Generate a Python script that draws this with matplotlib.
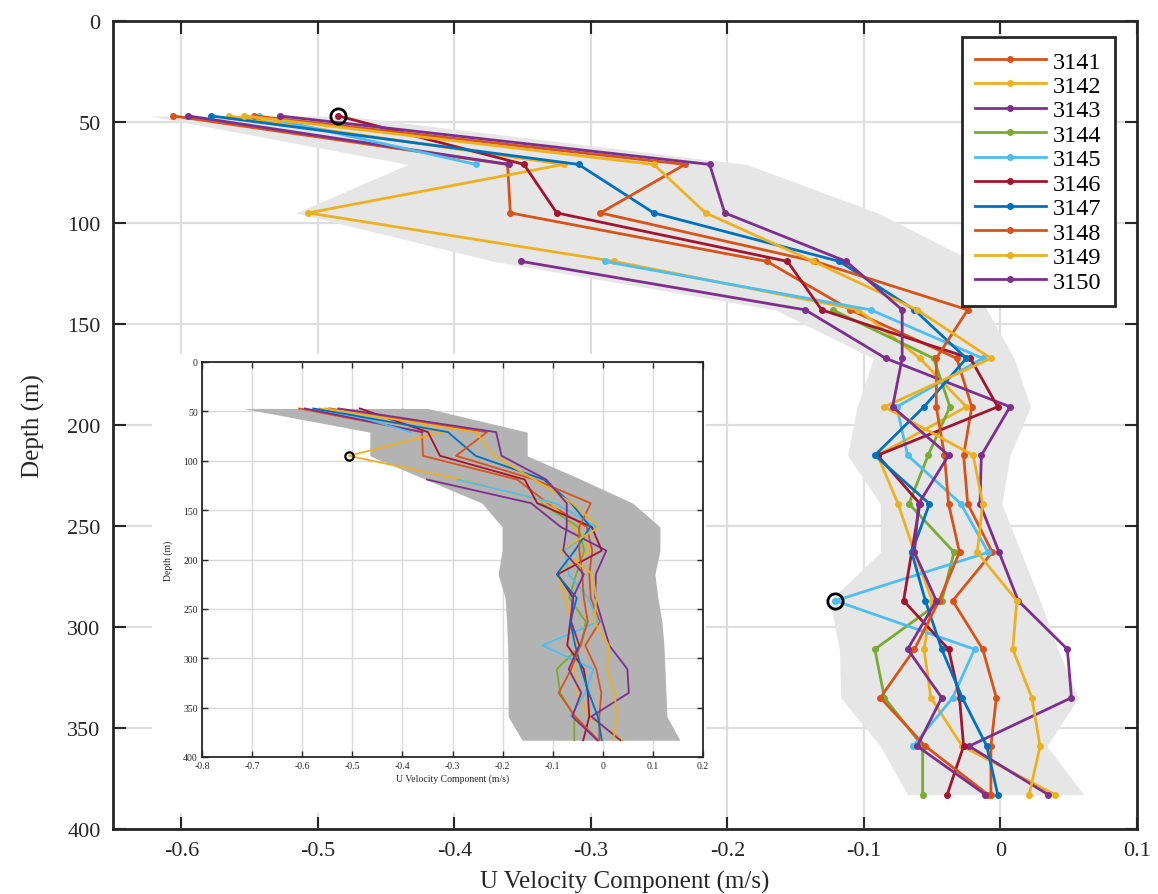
import numpy as np
import matplotlib
matplotlib.use("Agg")
import matplotlib.pyplot as plt
from matplotlib.patches import Rectangle

nan = np.nan

# depth levels (m)
depth = [47, 71, 95, 119, 143, 167, 191, 215, 239, 263, 287, 311, 335, 359, 383]

# U velocity profiles (m/s)
u3141 = [-0.606, -0.361, -0.359, -0.171, -0.110, -0.032, -0.021, -0.027, -0.024, -0.006, -0.035, -0.013, -0.003, -0.007, -0.007]
u3142 = [-0.565, -0.320, -0.507, -0.283, -0.104, -0.059, -0.025, -0.090, -0.075, -0.063, -0.050, -0.056, -0.051, -0.028, 0.040]
u3143 = [-0.595, -0.360, nan, -0.351, -0.143, -0.084, 0.007, -0.014, -0.015, -0.001, 0.013, 0.049, 0.052, -0.023, 0.035]
u3144 = [nan, nan, nan, nan, -0.123, -0.049, -0.037, -0.053, -0.067, -0.034, -0.043, -0.092, -0.085, -0.057, -0.057]
u3145 = [-0.543, -0.384, nan, -0.290, -0.095, -0.013, -0.076, -0.068, -0.029, -0.009, -0.121, -0.019, -0.035, -0.064, nan]
u3146 = [-0.485, -0.349, -0.325, -0.156, -0.131, -0.022, -0.002, -0.090, -0.059, -0.065, -0.071, -0.038, -0.030, -0.027, -0.039]
u3147 = [-0.578, -0.309, -0.254, -0.118, -0.063, -0.025, -0.056, -0.092, -0.052, -0.065, -0.055, -0.043, -0.028, -0.010, -0.002]
u3148 = [-0.547, -0.231, -0.293, -0.136, -0.024, -0.047, -0.047, -0.041, -0.038, -0.030, -0.045, -0.063, -0.088, -0.055, -0.009]
u3149 = [-0.554, -0.254, -0.216, -0.137, -0.061, -0.007, -0.085, -0.020, -0.013, -0.017, 0.012, 0.009, 0.023, 0.029, 0.021]
u3150 = [-0.528, -0.213, -0.202, -0.113, -0.072, -0.072, -0.079, -0.038, -0.060, -0.063, -0.047, -0.068, -0.043, -0.061, -0.011]

labels = ["3141", "3142", "3143", "3144", "3145", "3146", "3147", "3148", "3149", "3150"]
profiles = [u3141, u3142, u3143, u3144, u3145, u3146, u3147, u3148, u3149, u3150]
colors = ["#D95319", "#EDB120", "#7E2F8E", "#77AC30", "#4DBEEE",
          "#A2142F", "#0072BD", "#D95319", "#EDB120", "#7E2F8E"]

# shaded envelope, main panel
env_left = [-0.623, -0.434, -0.516, -0.371, -0.165, -0.093, -0.105, -0.112, -0.088, -0.088, -0.125, -0.118, -0.117, -0.088, -0.068]
env_right = [-0.480, -0.186, -0.090, -0.020, -0.010, 0.010, 0.022, 0.007, 0.001, 0.015, 0.029, 0.042, 0.057, 0.034, 0.061]

# shaded envelope, inset
ins_left = [-0.718, -0.465, -0.465, -0.353, -0.241, -0.201, -0.201, -0.209, -0.195, -0.192, -0.190, -0.189, -0.189, -0.189, -0.161]
ins_right = [-0.350, -0.151, -0.151, -0.043, 0.060, 0.114, 0.114, 0.104, 0.110, 0.118, 0.122, 0.124, 0.126, 0.128, 0.154]

# flagged points
flag_u = [-0.485, -0.121]
flag_d = [47, 287]
ins_flag_u = [-0.507]
ins_flag_d = [95]

plt.rcParams.update({"font.family": "Liberation Serif", "axes.unicode_minus": False,
                     "font.size": 16})
INK = "#262626"
GRID = "#dedede"

fig = plt.figure(figsize=(11.58, 8.95), dpi=100)
ax = fig.add_axes([113 / 1158, 1 - 830 / 895, 1024 / 1158, 808 / 895])

ax.fill_betweenx(depth, env_left, env_right, color="#e6e6e6", lw=0, zorder=1)
for lab, u, c in zip(labels, profiles, colors):
    ax.plot(u, depth, color=c, lw=2, marker="o", ms=4, label=lab, zorder=3)
ax.plot(flag_u, flag_d, ls="none", marker="o", ms=11, mfc="none", mec="black", mew=2, zorder=4)

ax.set_xlim(-0.65, 0.1)
ax.set_ylim(400, 0)
xt = [-0.6, -0.5, -0.4, -0.3, -0.2, -0.1, 0, 0.1]
ax.set_xticks(xt)
ax.set_xticklabels(["-0.6", "-0.5", "-0.4", "-0.3", "-0.2", "-0.1", "0", "0.1"])
ax.set_yticks(range(0, 401, 50))
ax.tick_params(direction="in", length=9, width=1.5, top=True, right=True,
               labelsize=16, colors=INK, pad=9)
ax.grid(True, color=GRID, lw=1.6, zorder=0)
ax.set_axisbelow(True)
for s in ax.spines.values():
    s.set_color(INK)
    s.set_linewidth(2)
ax.set_xlabel("U Velocity Component (m/s)", fontsize=18, color=INK, labelpad=7)
ax.set_ylabel("Depth (m)", fontsize=18, color=INK, labelpad=16)

leg = ax.legend(loc="upper right", bbox_to_anchor=(0.9785, 0.980), borderaxespad=0,
                fancybox=False, edgecolor=INK, framealpha=1, fontsize=17.5,
                handlelength=2.9, labelspacing=0.1, borderpad=0.55, handletextpad=0.3)
leg.get_frame().set_linewidth(2)
leg.set_zorder(6)

# white backing for the inset
ax.add_patch(Rectangle((152 / 1158, 1 - 814 / 895), (706 - 152) / 1158, (814 - 355) / 895,
                       transform=fig.transFigure, facecolor="white", edgecolor="none",
                       zorder=5, clip_on=False))

# inset
ia = fig.add_axes([202 / 1158, 1 - 758 / 895, 501 / 1158, 395 / 895])
ia.fill_betweenx(depth, ins_left, ins_right, color="#b3b3b3", lw=0, zorder=1)
for u, c in zip(profiles, colors):
    ia.plot(u, depth, color=c, lw=1.3, zorder=3)
ia.plot(ins_flag_u, ins_flag_d, ls="none", marker="o", ms=6, mfc="none", mec="black", mew=1.6, zorder=4)
ia.set_xlim(-0.8, 0.2)
ia.set_ylim(400, 0)
ia.set_xticks([-0.8, -0.7, -0.6, -0.5, -0.4, -0.3, -0.2, -0.1, 0, 0.1, 0.2])
ia.set_xticklabels(["-0.8", "-0.7", "-0.6", "-0.5", "-0.4", "-0.3", "-0.2", "-0.1", "0", "0.1", "0.2"])
ia.set_yticks(range(0, 401, 50))
ia.tick_params(direction="in", length=4, width=1, top=True, right=True,
               labelsize=7, colors=INK, pad=3)
ia.grid(True, color="#d9d9d9", lw=1, zorder=0)
ia.set_axisbelow(True)
for s in ia.spines.values():
    s.set_color(INK)
    s.set_linewidth(1.3)
ia.set_xlabel("U Velocity Component (m/s)", fontsize=7, color=INK, labelpad=2)
ia.set_ylabel("Depth (m)", fontsize=7, color=INK, labelpad=7)

fig.savefig("out.png", dpi=100, facecolor="white")
